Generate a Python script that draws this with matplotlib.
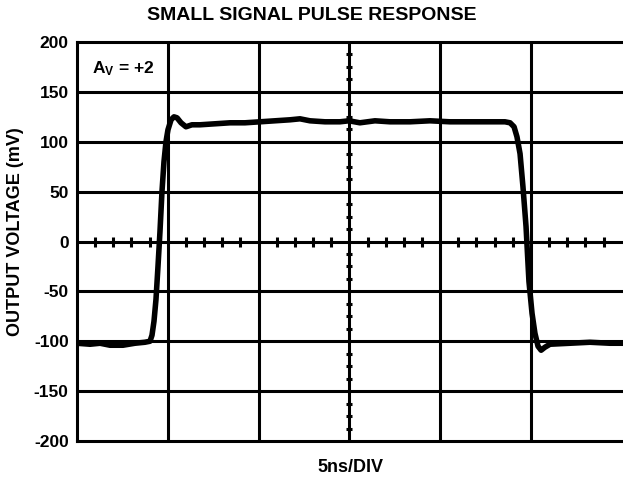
import matplotlib
matplotlib.use("Agg")
import matplotlib.pyplot as plt
import numpy as np

plt.rcParams['font.family'] = ['Liberation Sans', 'DejaVu Sans']
plt.rcParams['font.weight'] = 'bold'
plt.rcParams['mathtext.fontset'] = 'custom'
plt.rcParams['mathtext.rm'] = 'Liberation Sans:bold'
plt.rcParams['mathtext.it'] = 'Liberation Sans:bold'
plt.rcParams['mathtext.bf'] = 'Liberation Sans:bold'

title = "SMALL SIGNAL PULSE RESPONSE"
xlabel = "5ns/DIV"
ylabel = "OUTPUT VOLTAGE (mV)"
annotation = r"A$_\mathrm{V}$ = +2"

y_ticks = [-200, -150, -100, -50, 0, 50, 100, 150, 200]
x_grid = [5, 10, 15, 20, 25]

# trace: time (ns) and output (mV)
time_ns = [0.00, 0.72, 1.27, 1.82, 2.53, 3.19, 3.74, 4.02, 4.13, 4.24, 4.35,
           4.46, 4.57, 4.68, 4.79, 4.90, 5.01, 5.18, 5.34, 5.51, 5.73, 6.00,
           6.33, 6.77, 7.60, 8.43, 9.25, 10.08, 10.90, 11.73, 12.28, 12.83,
           13.66, 14.48, 14.98, 15.58, 16.41, 17.24, 18.34, 19.44, 20.54,
           21.64, 22.74, 23.57, 23.85, 24.07, 24.23, 24.40, 24.56, 24.73,
           24.89, 25.06, 25.22, 25.39, 25.56, 25.77, 26.05, 27.15, 28.25,
           29.35, 30.07]
output_mv = [-102, -103, -102, -104, -104, -102, -101, -100, -94, -80, -58,
             -25, 10, 50, 80, 100, 112, 122, 125, 124, 119, 115,
             117, 117, 118, 119, 119, 120, 121, 122, 123, 121,
             120, 120, 121, 119, 121, 120, 120, 121, 120,
             120, 120, 120, 119, 115, 105, 88, 55, 15,
             -40, -72, -92, -105, -109, -106, -103, -102, -101,
             -102, -102]

fig = plt.figure(figsize=(6.23, 4.79), dpi=100)
ax = fig.add_axes([77/623, 1-441/479, 1-77/623, (441-42)/479])
ax.set_xlim(0, 30.07)
ax.set_ylim(-200, 200)

lw_grid = 2.2
for xv in x_grid:
    ax.axvline(xv, color='black', lw=lw_grid, zorder=1)
for yv in y_ticks[1:-1]:
    ax.axhline(yv, color='black', lw=lw_grid, zorder=1)

# minor ticks on center cross
ym = [v for v in np.arange(-187.5, 200, 12.5) if v % 50 != 0]
ax.plot([15]*len(ym), ym, ls='none', marker='_', ms=5, mew=2.2, color='black', zorder=2)
xm = [v for v in np.arange(1, 30, 1) if v % 5 != 0]
ax.plot(xm, [0]*len(xm), ls='none', marker='|', ms=7, mew=2.2, color='black', zorder=2)

ax.plot(time_ns, output_mv, color='black', lw=4.0, solid_capstyle='round',
        solid_joinstyle='round', zorder=3)

for s in ['left', 'top', 'bottom']:
    ax.spines[s].set_linewidth(2.2)
ax.spines['right'].set_visible(False)

ax.set_yticks(y_ticks)
ax.set_yticklabels([str(v) for v in y_ticks], fontsize=12.5, fontweight='bold')
ax.tick_params(axis='y', length=0, pad=6)
ax.set_xticks([])

ax.text(0.83, 173, annotation, fontsize=12.5, fontweight='bold', va='center', ha='left')

fig.text(0.5, 1-15/479, title, fontsize=14, fontweight='bold', ha='center', va='center')
fig.text(350/623, 1-467/479, xlabel, fontsize=13, fontweight='bold', ha='center', va='center')
fig.text(16/623, 1-232/479, ylabel, fontsize=13, fontweight='bold', ha='center', va='center',
         rotation=90)

fig.savefig("out.png", dpi=100)
